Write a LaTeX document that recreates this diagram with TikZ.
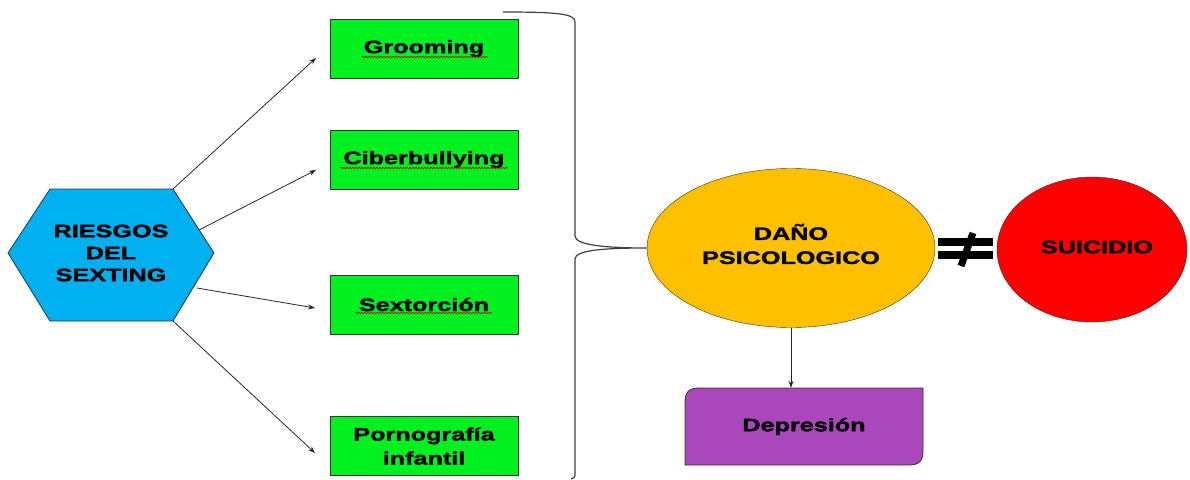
\documentclass[tikz,border=0pt]{standalone}
\usepackage{fontspec}
\newfontfamily\boxfont[FakeStretch=1.4,FakeBold=1.8]{Liberation Sans Bold}
\usetikzlibrary{shapes.geometric,arrows.meta,decorations.pathmorphing}
\definecolor{hexblue}{RGB}{0,176,240}
\definecolor{boxgreen}{RGB}{0,240,32}
\definecolor{danoyellow}{RGB}{255,192,0}
\definecolor{suired}{RGB}{255,0,0}
\definecolor{deppurple}{RGB}{171,71,188}
\begin{document}
\begin{tikzpicture}[x=1pt, y=-1pt,
    txt/.style={font=\boxfont\fontsize{18}{24}\selectfont, align=center},
    box/.style={txt, draw=black!80, fill=boxgreen, minimum width=188pt, minimum height=59pt, inner sep=0pt},
    oval/.style={ellipse, draw=black!80, inner sep=0pt},
    arr/.style={-{Stealth[length=7pt,width=5pt]}, draw=black!85, line width=0.8pt},
    squig/.style={red!80!black, line width=0.5pt, decorate, decoration={snake, amplitude=0.8pt, segment length=3pt}}]
    \useasboundingbox (0,0) rectangle (1190,479);

    \filldraw[fill=hexblue, draw=black!80, line width=0.8pt]
      (8,253) -- (50,189) -- (173,189) -- (214,253) -- (173,321) -- (50,321) -- cycle;
    \node[txt, font=\boxfont\fontsize{18}{22}\selectfont] (riesgos) at (111,253) {RIESGOS\\DEL\\SEXTING};
    \coordinate (hexA) at (173,189);
    \coordinate (hexB) at (199,230);
    \coordinate (hexC) at (197,288);
    \coordinate (hexD) at (173,321);

    \node[box] (groom) at (424,48.5) {Grooming};
    \node[box] (cyber) at (424,159.5) {Ciberbullying};
    \node[box] (sext) at (424,304.5) {Sextorción};
    \node[box] (porno) at (424,446) {Pornografía\\infantil};
    \draw[squig] (362,57) -- (488,57);
    \draw[squig] (340,168) -- (508,168);
    \draw[squig] (355,313) -- (492,313);

    \coordinate (tipA) at (316,58);
    \coordinate (tipB) at (316,170);
    \coordinate (tipC) at (315,308);
    \coordinate (tipD) at (315,453);
    \draw[arr] (hexA) -- (tipA);
    \draw[arr] (hexB) -- (tipB);
    \draw[arr] (hexC) -- (tipC);
    \draw[arr] (hexD) -- (tipD);

    \node[oval, fill=danoyellow, minimum width=288pt, minimum height=159pt] (dano) at (791,248) {};
    \node[txt] (danotxt) at (791,244) {DAÑO\\PSICOLOGICO};
    \node[oval, fill=suired, minimum width=190pt, minimum height=145pt] (sui) at (1092,249.5) {};
    \node[txt] (suitxt) at (1097,247) {SUICIDIO};

    \draw[black!75, line width=1.2pt] (503,12) .. controls (560,12) and (575,14) .. (575,22) -- (575,236)
      .. controls (575,245) and (605,248) .. (dano.west)
      .. controls (605,248) and (575,250) .. (575,259) -- (575,475) .. controls (575,477) and (574,478) .. (571,479);

    \fill (938,238) rectangle (993,246);
    \fill (938,251) rectangle (993,259);
    \draw[line width=7pt] (973,233) -- (961,266);

    \filldraw[fill=deppurple, draw=black!80, line width=0.8pt] (685,465) -- (685,402) .. controls (685,392) and (689,388) .. (699,388)
      -- (923,388) -- (923,451) .. controls (923,461) and (919,465) .. (909,465) -- cycle;
    \node[txt, minimum width=238pt, minimum height=77pt, inner sep=0pt] (depre) at (804,426.5) {Depresión};
    \draw[arr] (dano.south) -- (dano.south |- depre.north);
\end{tikzpicture}
\end{document}
